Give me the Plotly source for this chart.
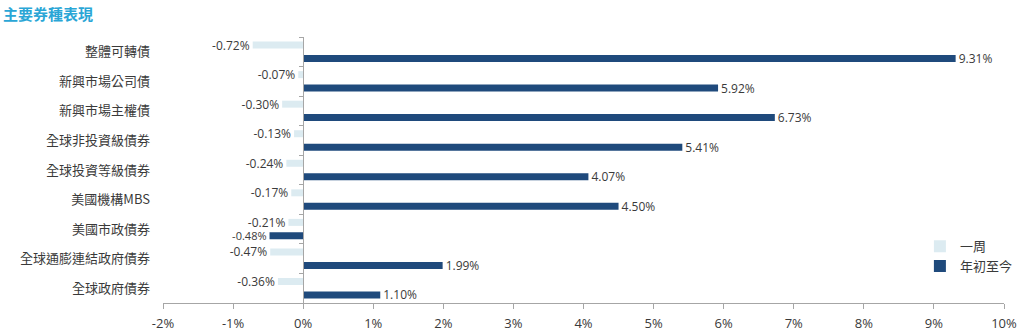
import plotly.graph_objects as go

# Bond sector returns (%)
categories = [
    "整體可轉債",
    "新興市場公司債",
    "新興市場主權債",
    "全球非投資級債券",
    "全球投資等級債券",
    "美國機構MBS",
    "美國市政債券",
    "全球通膨連結政府債券",
    "全球政府債券",
]
week_returns = [-0.72, -0.07, -0.30, -0.13, -0.24, -0.17, -0.21, -0.47, -0.36]
ytd_returns = [9.31, 5.92, 6.73, 5.41, 4.07, 4.50, -0.48, 1.99, 1.10]
x_ticks = [-2, -1, 0, 1, 2, 3, 4, 5, 6, 7, 8, 9, 10]

LIGHT = "#dcebf1"
NAVY = "#1f4a7c"
TEXT = "#3a3a3a"
AXIS = "#a6a6a6"
FONT = "Open Sans, Noto Sans CJK TC, sans-serif"
CJK = "Noto Sans CJK TC, sans-serif"

n = len(categories)
y_range = [n - 0.5, -0.5]


def pct(values):
    return [f"{v:.2f}%" for v in values]


fig = go.Figure()
fig.add_trace(go.Bar(
    name="一周",
    y=categories,
    x=week_returns,
    orientation="h",
    marker=dict(color=LIGHT, line=dict(width=0)),
    text=pct(week_returns),
    textposition="outside",
    constraintext="none",
    textfont=dict(size=12, color=TEXT, family=FONT),
    cliponaxis=False,
))
fig.add_trace(go.Bar(
    name="年初至今",
    y=categories,
    x=ytd_returns,
    orientation="h",
    marker=dict(color=NAVY, line=dict(width=0)),
    text=pct(ytd_returns),
    textposition="outside",
    constraintext="none",
    textfont=dict(size=[11 if v < 0 else 12 for v in ytd_returns], color=TEXT, family=FONT),
    cliponaxis=False,
))

# Invisible companion trace so the zero-line axis carries the same categories
fig.add_trace(go.Scatter(
    y=categories, x=[0] * n, yaxis="y2", mode="markers",
    marker=dict(opacity=0), showlegend=False, hoverinfo="skip",
))

fig.update_layout(
    width=1024,
    height=335,
    margin=dict(l=163, r=20, t=37, b=32, autoexpand=False),
    paper_bgcolor="white",
    plot_bgcolor="white",
    font=dict(family=FONT, color=TEXT, size=13),
    barmode="group",
    bargap=0.09,
    bargroupgap=0.48,
    showlegend=True,
    legend=dict(
        x=0.90, y=0.27, xanchor="left", yanchor="top",
        font=dict(size=13, color=TEXT, family=CJK),
        bgcolor="rgba(0,0,0,0)",
        tracegroupgap=0,
    ),
    annotations=[dict(
        text="<b>主要券種表現</b>",
        xref="paper", yref="paper",
        x=-162 / 841, y=1 + 23 / 266,
        xanchor="left", yanchor="middle",
        showarrow=False,
        font=dict(size=15, color="#2aa6d6", family=CJK),
    )],
    xaxis=dict(
        range=[-2, 10],
        tickvals=x_ticks,
        ticktext=[f"{v}%" for v in x_ticks],
        showgrid=False,
        zeroline=False,
        showline=True,
        linecolor=AXIS,
        linewidth=1,
        ticks="outside",
        ticklen=5,
        tickcolor=AXIS,
        ticklabelstandoff=3,
        tickfont=dict(size=13, color=TEXT, family=FONT),
        automargin=False,
        fixedrange=True,
    ),
    yaxis=dict(
        range=y_range,
        categoryorder="array",
        categoryarray=categories,
        showgrid=False,
        zeroline=False,
        showline=False,
        ticks="",
        ticklabelstandoff=12,
        tickfont=dict(size=13, color=TEXT, family=CJK),
        automargin=False,
    ),
    yaxis2=dict(
        overlaying="y",
        anchor="free",
        position=2 / 12,
        range=y_range,
        categoryorder="array",
        categoryarray=categories,
        showgrid=False,
        zeroline=False,
        showline=True,
        linecolor=AXIS,
        linewidth=1,
        ticks="outside",
        tickson="boundaries",
        ticklen=4,
        tickcolor=AXIS,
        showticklabels=False,
        automargin=False,
    ),
)

fig.write_html("out.html")
